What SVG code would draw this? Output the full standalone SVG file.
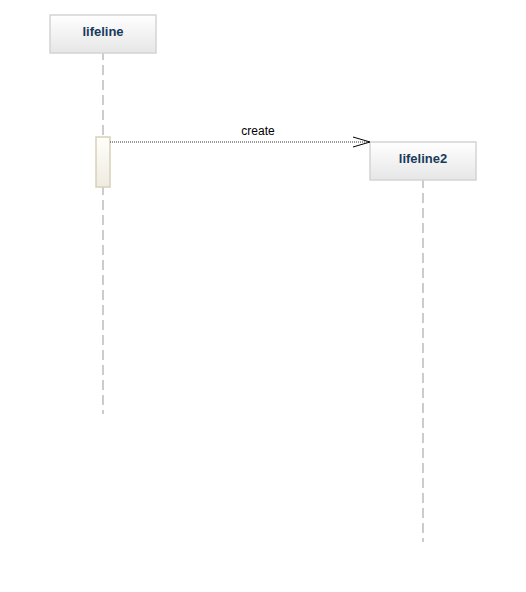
<svg xmlns="http://www.w3.org/2000/svg" width="526" height="592" viewBox="0 0 526 592">
<style>
.head{stroke:#d4d4d4;stroke-width:1.5;fill:url(#g1)}
.lbl{font-family:"Liberation Sans",Arial,sans-serif;font-size:13px;font-weight:bold;fill:#183a5c;text-anchor:middle}
.life{stroke:#cccccc;stroke-width:2;stroke-dasharray:10,5;fill:none}
.act{fill:url(#g2);stroke:#d8d0bc;stroke-width:1.5}
.msg{stroke:#333;stroke-width:1;stroke-dasharray:1,1;fill:none}
.mtext{font-family:"Liberation Sans",Arial,sans-serif;font-size:12px;fill:#000;text-anchor:middle}
</style>
<defs>
<linearGradient id="g1" x1="0" y1="0" x2="0" y2="1"><stop offset="0" stop-color="#ffffff"/><stop offset="1" stop-color="#e6e6e6"/></linearGradient>
<linearGradient id="g2" x1="0" y1="0" x2="0" y2="1"><stop offset="0" stop-color="#fffefb"/><stop offset="1" stop-color="#f0ebdf"/></linearGradient>
<marker id="open" markerWidth="20" markerHeight="12" refX="18" refY="6" orient="auto" markerUnits="userSpaceOnUse"><path d="M1,1 L18,6 L1,11" fill="none" stroke="#000" stroke-width="1"/></marker>
</defs>
<rect width="526" height="592" fill="#fff"/>
<g id="lifeline">
<line class="life" x1="103" y1="53" x2="103" y2="414" stroke-dashoffset="3"/>
<rect class="head" x="50" y="15" width="106" height="38"/>
<text class="lbl" x="103" y="36">lifeline</text>
<rect class="act" x="96" y="137" width="14" height="50"/>
</g>
<g id="lifeline2">
<line class="life" x1="423" y1="180" x2="423" y2="542" stroke-dashoffset="2"/>
<rect class="head" x="370" y="142" width="106" height="38"/>
<text class="lbl" x="423" y="163">lifeline2</text>
</g>
<g id="connectors">
<line class="msg" x1="110" y1="142" x2="370" y2="142" marker-end="url(#open)"/>
<text class="mtext" x="258" y="135">create</text>
</g>
</svg>
